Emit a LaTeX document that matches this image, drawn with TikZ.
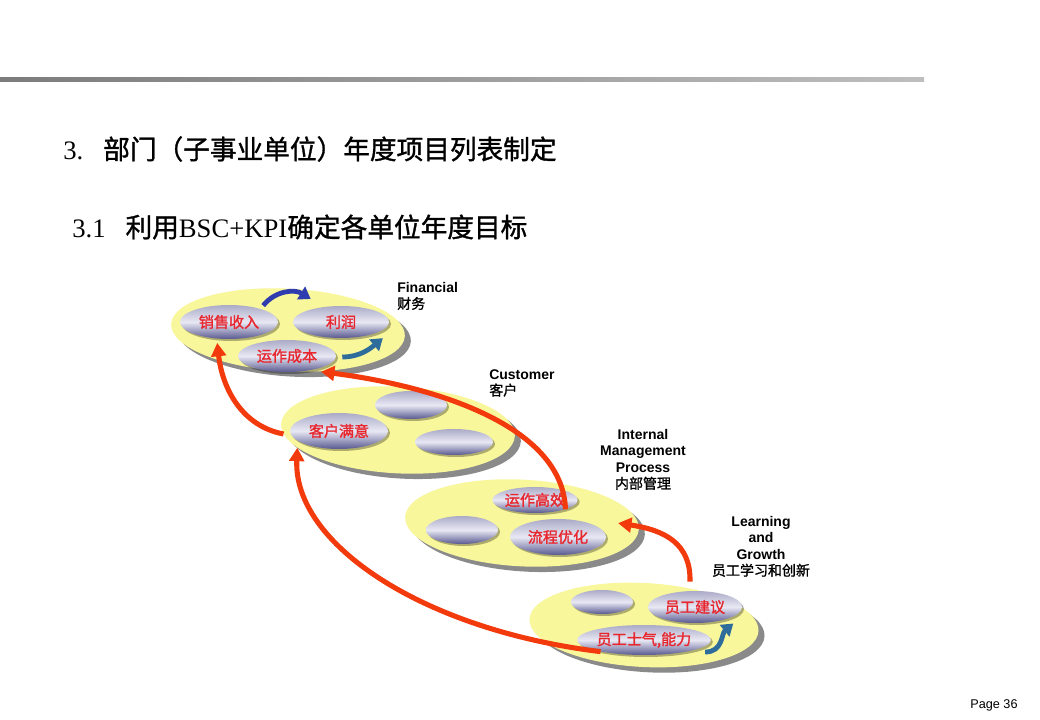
\documentclass[tikz,border=0pt]{standalone}
\usepackage{fontspec}
\setmainfont{Liberation Serif}
\newfontfamily\cjk{Noto Sans CJK SC}
\newfontfamily\cjkh[FakeBold=1.2]{Noto Sans CJK SC}
\newfontfamily\cjkb[FakeBold=1.6]{Noto Sans CJK SC}
\newfontfamily\lsans{Liberation Sans}
\usetikzlibrary{shapes.geometric,shadows,arrows.meta}
\definecolor{yel}{HTML}{F9F79C}
\definecolor{shd}{HTML}{8A8A8A}
\definecolor{ovtop}{HTML}{ABABC8}
\definecolor{ovmid}{HTML}{E8E8F4}
\definecolor{ovbot}{HTML}{585890}
\definecolor{lbl}{HTML}{E8262E}
\definecolor{redarr}{HTML}{F23A0C}
\definecolor{bluea}{HTML}{2E3CB0}
\definecolor{blueb}{HTML}{2E6C9C}
\definecolor{lineL}{HTML}{7C7C7C}
\definecolor{lineR}{HTML}{BEBEBE}
\tikzset{
 bigov/.style={ellipse, fill=yel, inner sep=0pt, minimum width=175.5pt, minimum height=63pt, rotate=-3,
   drop shadow={shadow xshift=4.5pt, shadow yshift=-4pt, fill=shd, opacity=1}},
 smallov/.style={ellipse, inner sep=0pt, top color=ovtop, bottom color=ovbot, middle color=ovmid,
   text=lbl, font=\cjkb\fontsize{11.3pt}{13pt}\selectfont,
   drop shadow={shadow xshift=1.5pt, shadow yshift=-1.5pt, fill=black, opacity=.3}},
 redarrow/.style={draw=redarr, line width=3.8pt, -{Triangle[length=10pt,width=11pt]}},
 bluearrow/.style={line width=3.6pt, -{Triangle[length=8.5pt,width=11pt]}},
 persp/.style={font=\lsans\bfseries\fontsize{10.5pt}{12.3pt}\selectfont, inner sep=0pt},
 heading/.style={anchor=west, inner sep=0pt, font=\fontsize{20pt}{24pt}\selectfont},
}
\begin{document}
\begin{tikzpicture}[x=0.75pt,y=-0.75pt]
\useasboundingbox (0,0) rectangle (1040,720);
\fill[white] (0,0) rectangle (1040,720);
% header rule
\shade[left color=lineL, right color=lineR] (0,78) rectangle (924,82);
% headings
\node[heading] (h1) at (63,149) {3.\hspace{15pt}{\cjkh 部门（子事业单位）年度项目列表制定}};
\node[heading] (h2) at (72,227) {3.1\hspace{15pt}{\cjkh 利用}BSC+KPI{\cjkh 确定各单位年度目标}};
% big ellipses
\node[bigov, minimum height=62pt] (fin) at (288,330) {};
\node[bigov, minimum height=65pt] (cust) at (398,430) {};
\node[bigov, minimum height=65pt] (intl) at (522,523) {};
\node[bigov, minimum width=172pt] (lrn) at (644,625) {};
% inner ellipses
\node[smallov, minimum width=73.5pt, minimum height=25.5pt] (xs) at (229,322) {销售收入};
\node[smallov, minimum width=72pt, minimum height=24pt] (lr) at (341,322) {利润};
\node[smallov, minimum width=73.5pt, minimum height=24pt] (yzcb) at (287,356) {运作成本};
\node[smallov, minimum width=54pt, minimum height=21pt] (cu1) at (411,405) {};
\node[smallov, minimum width=73.5pt, minimum height=27pt] (khmy) at (339,431) {客户满意};
\node[smallov, minimum width=58.5pt, minimum height=19.5pt] (cu2) at (454,442) {};
\node[smallov, minimum width=60pt, minimum height=19.5pt] (yzgx) at (535,500) {运作高效};
\node[smallov, minimum width=54pt, minimum height=21pt] (in1) at (462,530) {};
\node[smallov, minimum width=72pt, minimum height=27pt] (lcyh) at (558,537) {流程优化};
\node[smallov, minimum width=46.5pt, minimum height=18pt] (le1) at (602,602) {};
\node[smallov, minimum width=70.5pt, minimum height=24pt] (ygjy) at (695,607) {员工建议};
\node[smallov, minimum width=73.5pt, minimum height=22.5pt] (ygsq) at (644,640) {员工士气,能力};
% perspective labels
\node[persp, anchor=north west, align=left] (tfin) at (397,282) {Financial\\{\cjkh\mdseries 财务}};
\node[persp, anchor=north west, align=left] (tcus) at (489,369) {Customer\\{\cjkh\mdseries 客户}};
\node[persp, anchor=north, align=center] (tint) at (643,429) {Internal\\Management\\Process\\{\cjkh\mdseries 内部管理}};
\node[persp, anchor=north, align=center] (tlrn) at (761,516) {Learning\\and\\Growth\\{\cjkh\mdseries 员工学习和创新}};
% blue arrows
\draw[bluearrow, draw=bluea] ([shift={(0,-4)}]xs.20) .. controls +(12,-15) and +(-16,-10) .. ([shift={(-6,-9)}]lr.150);
\draw[bluearrow, draw=blueb] ([shift={(6,1)}]yzcb.east) .. controls +(18,0) and +(-12,10) .. ([shift={(0,8)}]lr.-11);
\draw[bluearrow, draw=blueb] ([shift={(4,4)}]ygsq.-8) .. controls +(18,0) and +(-12,10) .. ([shift={(0,7)}]ygjy.-14);
% red arrows
\draw[redarrow] (cust.185) .. controls +(-42,-8) and +(5,45) .. ([shift={(-2,4)}]xs.-120);
\draw[redarrow] (yzgx.-17) .. controls +(-3,-85) and +(110,14) .. ([shift={(0,4)}]yzcb.-19);
\draw[redarrow] ([shift={(-5,-9)}]ygjy.north) .. controls +(1,-38) and +(47,7) .. ([shift={(-21,-6)}]intl.east);
\draw[redarrow] (ygsq.195) .. controls +(-180,-22) and +(-4,95) .. (cust.193);
% page number
\node[font=\lsans\fontsize{9.5pt}{11pt}\selectfont] (pg) at (994,705) {Page 36};
\end{tikzpicture}
\end{document}
